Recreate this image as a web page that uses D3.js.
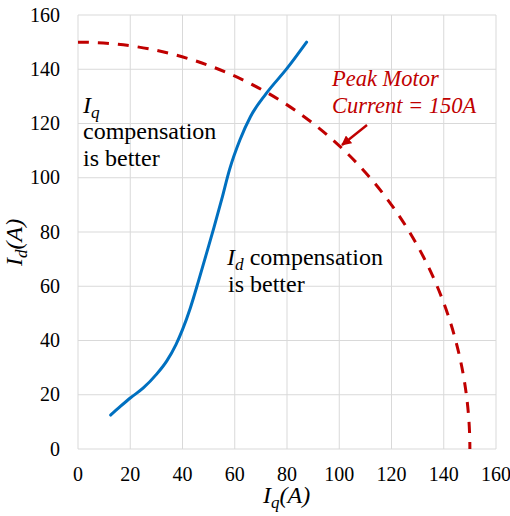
<!DOCTYPE html>
<html>
<head>
<meta charset="utf-8">
<script src="https://cdn.jsdelivr.net/npm/d3@7"></script>
</head>
<body style="margin:0">
<div id="chart"></div>
<script>
// compensation boundary, Iq vs Id (A)
var iqValues = [12.5, 16, 20, 25, 30, 34, 37.5, 40, 43, 46, 49, 52, 55, 58, 62, 66, 72, 80, 87.5]
var idValues = [12.5, 15.5, 18.8, 22.5, 27.5, 32.5, 38.5, 44, 52, 61.5, 71.5, 81.5, 92, 103, 114, 122.5, 131, 140.3, 150]
var peakCurrent = 150
var xTicks = [0, 20, 40, 60, 80, 100, 120, 140, 160]
var yTicks = [0, 20, 40, 60, 80, 100, 120, 140, 160]

var width = 510, height = 516
var margin = {top: 15, right: 14, bottom: 67, left: 78}
var fontName = "Liberation Serif"

var svg = d3.select("#chart").append("svg")
  .attr("width", width)
  .attr("height", height)
  .attr("font-family", fontName)

var x = d3.scaleLinear().domain([0, 160]).range([margin.left, width - margin.right])
var y = d3.scaleLinear().domain([0, 160]).range([height - margin.bottom, margin.top])

function txt(g, px, py, size) {
  return g.append("text").attr("x", px).attr("y", py)
    .attr("font-size", size)
    .attr("font-family", fontName)
    .style("font-family", "'" + fontName + "'")
}

// grid
svg.append("g").selectAll("line").data(xTicks).enter().append("line")
  .attr("x1", d => x(d)).attr("x2", d => x(d))
  .attr("y1", y(0)).attr("y2", y(160))
  .attr("stroke", "#d9d9d9").attr("stroke-width", 1)
svg.append("g").selectAll("line").data(yTicks).enter().append("line")
  .attr("x1", x(0)).attr("x2", x(160))
  .attr("y1", d => y(d)).attr("y2", d => y(d))
  .attr("stroke", "#d9d9d9").attr("stroke-width", 1)

// tick labels
xTicks.forEach(d => txt(svg, x(d), y(0) + 32, 20).attr("text-anchor", "middle").text(d))
yTicks.forEach(d => txt(svg, x(0) - 18, y(d) + 6.5, 20).attr("text-anchor", "end").text(d))

// peak current circle (dashed)
svg.append("path")
  .attr("d", "M" + x(0) + "," + y(peakCurrent) +
    " A" + (x(peakCurrent) - x(0)) + "," + (y(0) - y(peakCurrent)) + " 0 0 1 " + x(peakCurrent) + "," + y(0))
  .attr("fill", "none")
  .attr("stroke", "#c00000")
  .attr("stroke-width", 3)
  .attr("stroke-dasharray", "11,9")

// boundary curve
var pts = iqValues.map((v, i) => [v, idValues[i]])
var line = d3.line()
  .x(d => x(d[0]))
  .y(d => y(d[1]))
  .curve(d3.curveMonotoneX)
svg.append("path")
  .datum(pts)
  .attr("d", line)
  .attr("fill", "none")
  .attr("stroke", "#0070c0")
  .attr("stroke-width", 3)
  .attr("stroke-linecap", "round")

// annotations
function subLabel(px, py, main, sub, size, rest) {
  var t = txt(svg, px, py, size)
  t.append("tspan").attr("font-style", "italic").text(main)
  t.append("tspan").attr("font-style", "italic").attr("font-size", size * 0.72).attr("dy", size * 0.22).text(sub)
  if (rest) t.append("tspan").attr("dy", -size * 0.22).text(rest)
  return t
}

subLabel(83, 113, "I", "q", 24)
txt(svg, 83, 139, 24).text("compensation")
txt(svg, 83, 166, 24).text("is better")

subLabel(227, 265, "I", "d", 24, " compensation")
txt(svg, 228, 292, 24).text("is better")

txt(svg, 332, 86, 22.5).attr("font-style", "italic").attr("fill", "#c00000").text("Peak Motor")
txt(svg, 332, 113, 22.5).attr("font-style", "italic").attr("fill", "#c00000").text("Current = 150A")

svg.append("defs").append("marker")
  .attr("id", "arr").attr("viewBox", "0 0 10 10")
  .attr("refX", 9).attr("refY", 5)
  .attr("markerWidth", 4).attr("markerHeight", 4)
  .attr("orient", "auto")
  .append("path").attr("d", "M0,0 L10,5 L0,10 z").attr("fill", "#c00000")
svg.append("line")
  .attr("x1", 367).attr("y1", 125).attr("x2", 342).attr("y2", 145)
  .attr("stroke", "#c00000").attr("stroke-width", 2.5)
  .attr("marker-end", "url(#arr)")

// axis titles
var xl = txt(svg, 263, 503, 24)
xl.append("tspan").attr("font-style", "italic").text("I")
xl.append("tspan").attr("font-style", "italic").attr("font-size", 17).attr("dy", 5).text("q")
xl.append("tspan").attr("font-style", "italic").attr("dy", -5).text("(A)")

var yl = txt(svg, 0, 0, 24).attr("transform", "translate(22,266) rotate(-90)")
yl.append("tspan").attr("font-style", "italic").text("I")
yl.append("tspan").attr("font-style", "italic").attr("font-size", 17).attr("dy", 5).text("d")
yl.append("tspan").attr("font-style", "italic").attr("dy", -5).text("(A)")
</script>
</body>
</html>
